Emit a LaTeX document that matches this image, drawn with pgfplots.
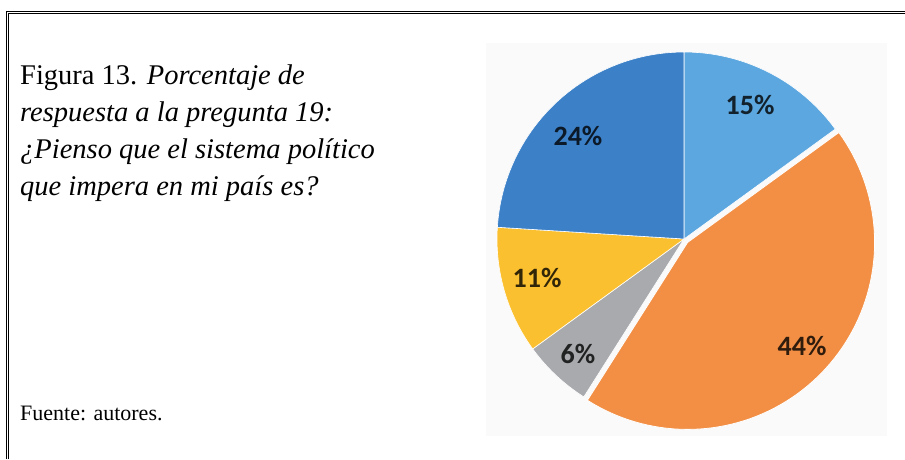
\documentclass[border=0pt]{standalone}
\usepackage{pgfplots}
\pgfplotsset{compat=1.18}
\usepackage{fontspec}
\setmainfont{Liberation Serif}
\newfontfamily\calibri{Carlito}
\definecolor{sliceA}{HTML}{5CA7DF}
\definecolor{sliceB}{HTML}{F28F45}
\definecolor{sliceC}{HTML}{A8AAAE}
\definecolor{sliceD}{HTML}{FBC02F}
\definecolor{sliceE}{HTML}{3C81C8}
\begin{document}
\begin{tikzpicture}[x=1pt,y=-1pt]
\path[use as bounding box] (0,0) rectangle (905,459);
% background of the chart image
\fill[black!2] (486,43) rectangle (887,436);
% frame
\draw[line width=1.2pt] (6.3,459) -- (6.3,11.2) -- (905,11.2);
\draw[line width=0.8pt] (8.8,459) -- (8.8,13.7) -- (905,13.7);
% caption
\begin{scope}[every node/.style={anchor=base west,inner sep=0pt,font=\fontsize{28.5}{32}\selectfont}]
\node at (20,84) {Figura 13. \textit{Porcentaje de}};
\node at (20,121) {\textit{respuesta a la pregunta 19:}};
\node at (20,158) {\textit{¿Pienso que el sistema político}};
\node at (20,195) {\textit{que impera en mi país es?}};
\end{scope}
\node[anchor=base west,inner sep=0pt,font=\fontsize{22}{26}\selectfont] at (20,420) {Fuente: autores.};
\begin{axis}[at={(684pt,-239pt)},anchor=center,scale only axis,
  width=411.4pt,height=411.4pt,xmin=-1.1,xmax=1.1,ymin=-1.1,ymax=1.1,
  hide axis,clip=false]
% slices: domain in cumulative percent (15, 44, 6, 11, 24), clockwise from top
\addplot[draw=white,line width=0.6pt,fill=sliceA,domain=0:15,samples=40] ({sin(3.6*x)},{cos(3.6*x)}) -- (axis cs:0,0) -- cycle;
\addplot[draw=white,line width=0.6pt,fill=sliceC,domain=59:65,samples=20] ({sin(3.6*x)},{cos(3.6*x)}) -- (axis cs:0,0) -- cycle;
\addplot[draw=white,line width=0.6pt,fill=sliceD,domain=65:76,samples=30] ({sin(3.6*x)},{cos(3.6*x)}) -- (axis cs:0,0) -- cycle;
\addplot[draw=white,line width=0.6pt,fill=sliceE,domain=76:100,samples=50] ({sin(3.6*x)},{cos(3.6*x)}) -- (axis cs:0,0) -- cycle;
\addplot[draw=white,line width=0.8pt,fill=sliceB,domain=15:59,samples=80,xshift=3.6pt,yshift=-3.4pt] ({sin(3.6*x)},{cos(3.6*x)}) -- (axis cs:0,0) -- cycle;
\begin{scope}[every node/.style={font=\calibri\bfseries\fontsize{28}{32}\selectfont,text=black,text opacity=0.8}]
\node at (axis cs:0.353,0.717) {15\%};
\node at (axis cs:-0.567,0.551) {24\%};
\node at (axis cs:-0.786,-0.209) {11\%};
\node at (axis cs:-0.567,-0.615) {6\%};
\node at (axis cs:0.631,-0.572) {44\%};
\end{scope}
\end{axis}
\end{tikzpicture}
\end{document}
